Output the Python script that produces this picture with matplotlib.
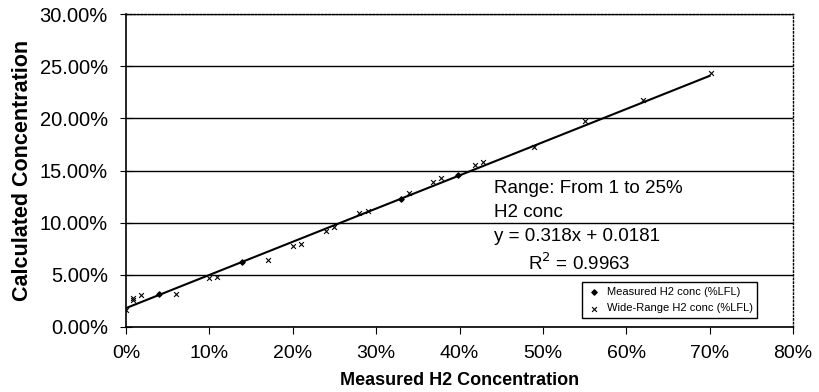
import matplotlib
matplotlib.use("Agg")
from matplotlib import pyplot as plt
from matplotlib.ticker import FuncFormatter
import numpy as np

plt.rcParams['font.family'] = ['Liberation Sans', 'DejaVu Sans']

# measured H2 conc (%LFL) points
measured_x = [0.040, 0.139, 0.330, 0.398]
measured_y = [0.0316, 0.0625, 0.123, 0.146]

# wide-range H2 conc (%LFL) points
wide_x = [0.000, 0.008, 0.008, 0.018, 0.060, 0.099, 0.109, 0.170, 0.200, 0.210,
          0.240, 0.250, 0.280, 0.290, 0.340, 0.368, 0.378, 0.418, 0.428, 0.489,
          0.550, 0.620, 0.702]
wide_y = [0.0163, 0.026, 0.028, 0.031, 0.032, 0.0466, 0.0475, 0.064, 0.078, 0.080,
          0.092, 0.096, 0.109, 0.111, 0.128, 0.139, 0.143, 0.155, 0.158, 0.173,
          0.197, 0.218, 0.243]

slope, intercept = 0.318, 0.0181
fit_range = [0.0, 0.70]

fig = plt.figure(figsize=(8.19, 3.92), dpi=100)
ax = fig.add_axes([126 / 819, 1 - 327 / 392, (793 - 126) / 819, (327 - 14) / 392])

fx = np.array(fit_range)
ax.plot(fx, slope * fx + intercept, color="black", lw=1.5, zorder=3)
ax.scatter(measured_x, measured_y, marker="D", s=7, color="black", zorder=4,
           label="Measured H2 conc (%LFL)")
ax.scatter(wide_x, wide_y, marker="x", s=12, color="black", linewidths=0.8, zorder=4,
           label="Wide-Range H2 conc (%LFL)")

ax.set_xlim(0, 0.8)
ax.set_ylim(0, 0.30)
ax.set_xticks(np.arange(0, 0.81, 0.1))
ax.set_yticks(np.arange(0, 0.301, 0.05))
ax.xaxis.set_major_formatter(FuncFormatter(lambda v, p: f"{v * 100:.0f}%"))
ax.yaxis.set_major_formatter(FuncFormatter(lambda v, p: f"{v * 100:.2f}%"))
ax.yaxis.grid(True, color="black", lw=1.0)
ax.set_axisbelow(True)

for s in ["top", "right"]:
    ax.spines[s].set_linestyle(":")
    ax.spines[s].set_linewidth(1.0)
ax.spines["left"].set_linewidth(1.2)
ax.spines["bottom"].set_linewidth(1.2)
ax.tick_params(axis="y", direction="inout", length=8, labelsize=14.5, pad=9)
ax.tick_params(axis="x", direction="out", length=5, labelsize=14, pad=8)

ax.set_xlabel("Measured H2 Concentration", fontsize=13, fontweight="bold", labelpad=7)
ax.set_ylabel("Calculated Concentration", fontsize=15.5, fontweight="bold", labelpad=5)

ax.text(0.441, 0.133, "Range: From 1 to 25%", fontsize=13.5, va="center")
ax.text(0.441, 0.110, "H2 conc", fontsize=13.5, va="center")
ax.text(0.441, 0.0865, "y = 0.318x + 0.0181", fontsize=13.5, va="center")
ax.text(0.482, 0.061, "R$^2$ = 0.9963", fontsize=13.5, va="center")

leg = ax.legend(loc="lower right", bbox_to_anchor=(0.946, 0.029), borderaxespad=0,
                prop={"size": 8},
                frameon=True, fancybox=False, edgecolor="black", framealpha=1,
                handletextpad=0.4, borderpad=0.4, labelspacing=0.6, handlelength=1.4)
leg.get_frame().set_linewidth(1.0)

fig.savefig("out.png", dpi=100)
